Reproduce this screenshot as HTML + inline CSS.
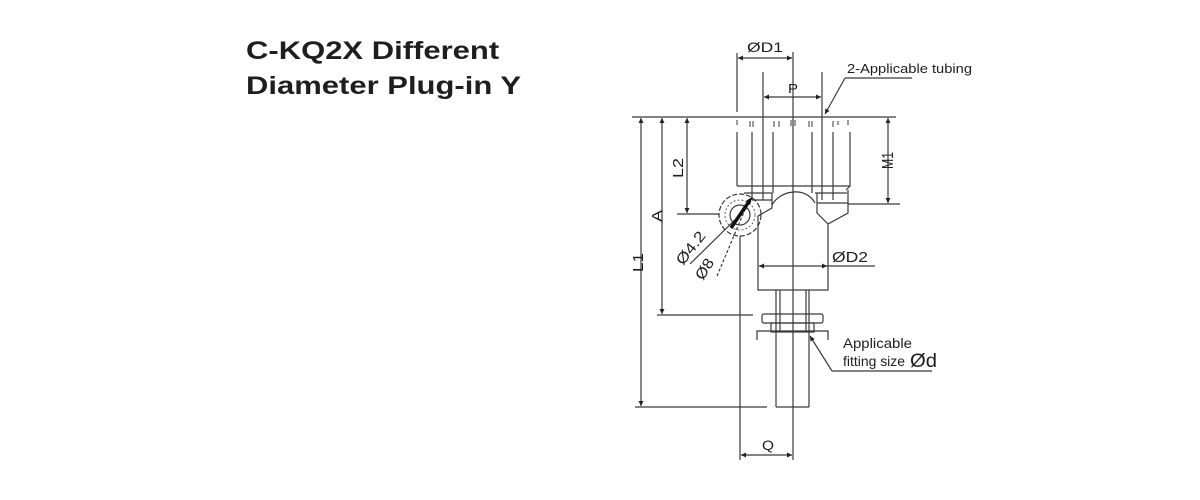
<!DOCTYPE html>
<html>
<head>
<meta charset="utf-8">
<style>
  html,body{margin:0;padding:0;background:#fff;}
  svg{display:block;}
  text{font-family:"Liberation Sans",Arial,sans-serif;fill:#1e1e1e;}
</style>
</head>
<body>
<svg width="1200" height="500" viewBox="0 0 1200 500" xmlns="http://www.w3.org/2000/svg">
  <defs>
    <marker id="ar" viewBox="0 0 10 10" refX="10" refY="5" markerWidth="9" markerHeight="5" orient="auto-start-reverse" markerUnits="userSpaceOnUse">
      <path d="M0,0 L10,5 L0,10 z" fill="#222"/>
    </marker>
  </defs>

  <!-- Title -->
  <text transform="translate(246,59) scale(1.24,1)" font-size="25" font-weight="bold" fill="#111">C-KQ2X Different</text>
  <text transform="translate(246,94) scale(1.24,1)" font-size="25" font-weight="bold" fill="#111">Diameter Plug-in Y</text>

  <g stroke="#3a3a3a" stroke-width="1.2" fill="none">
    <!-- top reference line -->
    <line x1="632" y1="117" x2="896" y2="117"/>
    <!-- center line -->
    <line x1="793" y1="52" x2="793" y2="460"/>
    <!-- ØD1 ext -->
    <line x1="737" y1="53" x2="737" y2="112"/>
    <!-- ØD1 dim -->
    <line x1="738" y1="58" x2="792" y2="58" marker-start="url(#ar)" marker-end="url(#ar)"/>
    <!-- P ext -->
    <line x1="763" y1="72" x2="763" y2="200"/>
    <line x1="822" y1="72" x2="822" y2="200"/>
    <line x1="764" y1="97" x2="821" y2="97" marker-start="url(#ar)" marker-end="url(#ar)"/>

    <!-- 2-Applicable tubing leader -->
    <line x1="845" y1="78" x2="912" y2="78"/>
    <line x1="845" y1="78" x2="825" y2="114" marker-end="url(#ar)"/>

    <!-- vertical dims -->
    <line x1="641" y1="118" x2="641" y2="406" marker-start="url(#ar)" marker-end="url(#ar)"/>
    <line x1="662" y1="118" x2="662" y2="314" marker-start="url(#ar)" marker-end="url(#ar)"/>
    <line x1="687" y1="118" x2="687" y2="213" marker-start="url(#ar)" marker-end="url(#ar)"/>
    <line x1="888" y1="118" x2="888" y2="203" marker-start="url(#ar)" marker-end="url(#ar)"/>

    <!-- extension lines -->
    <line x1="677" y1="214" x2="719" y2="214"/>
    <line x1="848" y1="204" x2="900" y2="204"/>
    <line x1="657" y1="315" x2="753" y2="315"/>
    <line x1="635" y1="407" x2="767" y2="407"/>
    <line x1="740" y1="236" x2="740" y2="460"/>

    <!-- Q dim -->
    <line x1="741" y1="455" x2="792" y2="455" marker-start="url(#ar)" marker-end="url(#ar)"/>

    <!-- upper housing small marks -->
    <g stroke-width="1">
      <line x1="737" y1="120" x2="737" y2="125"/>
      <line x1="750" y1="121" x2="750" y2="127"/><line x1="753" y1="121" x2="753" y2="127"/>
      <line x1="774" y1="121" x2="774" y2="127"/><line x1="779" y1="121" x2="779" y2="127"/>
      <line x1="791" y1="120" x2="791" y2="126"/><line x1="795" y1="120" x2="795" y2="126"/>
      <line x1="809" y1="121" x2="809" y2="127"/><line x1="812" y1="121" x2="812" y2="127"/>
      <line x1="833" y1="121" x2="833" y2="127"/><line x1="838" y1="121" x2="838" y2="125"/>
      <line x1="848" y1="120" x2="848" y2="125"/>
    </g>
    <!-- upper housing verticals -->
    <line x1="737" y1="132" x2="737" y2="186"/>
    <line x1="752" y1="132" x2="752" y2="200"/>
    <line x1="773" y1="132" x2="773" y2="193"/>
    <line x1="812" y1="132" x2="812" y2="193"/>
    <line x1="833" y1="132" x2="833" y2="200"/>
    <path d="M850,132 L850,186 L846,190"/>
    <!-- housing bottom -->
    <line x1="737" y1="186" x2="850" y2="186"/>
    <line x1="744" y1="193" x2="772" y2="193"/>
    <line x1="815" y1="193" x2="847" y2="193"/>
    <line x1="752" y1="200" x2="772" y2="200"/>
    <!-- arch -->
    <path d="M772,205 C780,190 806,186 815,203"/>
    <!-- left shoulder and lower body -->
    <path d="M772,193 L772,208 L758,216 L758,290 L828,290 L828,224"/>
    <!-- right cone -->
    <path d="M817,193 L817,213 L828,224 L848,213 L848,190"/>
    <line x1="817" y1="203" x2="848" y2="203"/>

    <!-- ØD2 dim -->
    <line x1="759" y1="266" x2="827" y2="266" marker-start="url(#ar)" marker-end="url(#ar)"/>
    <line x1="827" y1="266" x2="875" y2="266"/>

    <!-- stem -->
    <line x1="776" y1="290" x2="776" y2="407"/>
    <line x1="809" y1="290" x2="809" y2="407"/>
    <line x1="780" y1="290" x2="780" y2="332"/>
    <line x1="806" y1="290" x2="806" y2="332"/>
    <line x1="776" y1="407" x2="809" y2="407"/>
    <!-- flange -->
    <rect x="762" y="314" width="61" height="9" rx="2"/>
    <rect x="771" y="323" width="43" height="9"/>
    <path d="M757,340 L757,331 L828,331 L828,340"/>

    <!-- Applicable fitting leader -->
    <line x1="932" y1="371" x2="832" y2="371"/>
    <line x1="832" y1="371" x2="810" y2="336" marker-end="url(#ar)"/>

    <!-- circle -->
    <circle cx="740" cy="215" r="21" stroke-dasharray="5,2"/>
    <circle cx="740" cy="215" r="10"/>
    <circle cx="740" cy="215" r="15" stroke-dasharray="2,2" stroke-width="0.8"/>
    <!-- leaders for Ø4.2 and Ø8 -->
    <line x1="690" y1="264" x2="747" y2="208"/>
    <line x1="717" y1="276" x2="749" y2="200" stroke-dasharray="3,2"/>
  </g>
  <!-- heavy hatch arrow in circle -->
  <line x1="731" y1="228" x2="750" y2="200" stroke="#111" stroke-width="3.5"/>
  <path d="M752,197 L746,201 L750,205 z" fill="#111"/>

  <!-- labels -->
  <text x="747" y="52" font-size="14" textLength="36" lengthAdjust="spacingAndGlyphs">ØD1</text>
  <text x="788" y="93" font-size="13" textLength="10" lengthAdjust="spacingAndGlyphs">P</text>
  <text x="847" y="73" font-size="13" textLength="125" lengthAdjust="spacingAndGlyphs">2-Applicable tubing</text>
  <text x="832" y="262" font-size="15" textLength="36" lengthAdjust="spacingAndGlyphs">ØD2</text>
  <text x="762" y="450" font-size="14" textLength="12" lengthAdjust="spacingAndGlyphs">Q</text>
  <text x="843" y="348" font-size="14" textLength="69" lengthAdjust="spacingAndGlyphs">Applicable</text>
  <text x="843" y="366" font-size="14" textLength="62" lengthAdjust="spacingAndGlyphs">fitting size</text>
  <text x="910" y="367" font-size="19" textLength="27" lengthAdjust="spacingAndGlyphs">Ød</text>

  <text transform="translate(683,178) rotate(-90)" font-size="15" textLength="20" lengthAdjust="spacingAndGlyphs">L2</text>
  <text transform="translate(662,222) rotate(-90)" font-size="15" textLength="12" lengthAdjust="spacingAndGlyphs">A</text>
  <text transform="translate(643,272) rotate(-90)" font-size="15" textLength="19" lengthAdjust="spacingAndGlyphs">L1</text>
  <text transform="translate(893,169) rotate(-90)" font-size="16" textLength="17" lengthAdjust="spacingAndGlyphs">M1</text>

  <text transform="translate(683,266) rotate(-52)" font-size="15" textLength="38" lengthAdjust="spacingAndGlyphs">Ø4.2</text>
  <text transform="translate(703,281) rotate(-58)" font-size="15" textLength="22" lengthAdjust="spacingAndGlyphs">Ø8</text>
</svg>
</body>
</html>
